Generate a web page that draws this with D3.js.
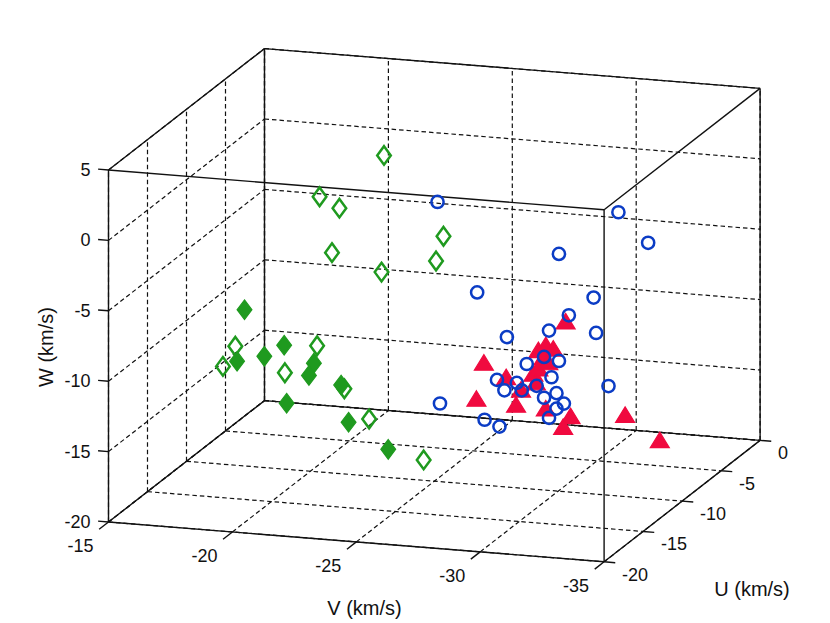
<!DOCTYPE html>
<meta charset="utf-8">
<style>
body{ margin:0; background:#fff; }
text{ font-family:"Liberation Sans", Arial, sans-serif; fill:#111; }
</style>
<body>
<svg class="chart"></svg>
<script src="https://cdn.jsdelivr.net/npm/d3@7"></script>
<script>
// tick values
var vTicks = [-15, -20, -25, -30, -35];
var uTicks = [0, -5, -10, -15, -20];
var wTicks = [-20, -15, -10, -5, 0, 5];

// open green diamonds [V, U, W]
var greenOpenV = [-23.6, -21.0, -21.8, -21.5, -23.5, -26.0, -25.7, -17.6, -17.1, -20.9, -19.6, -22.0, -23.0, -25.2];
var greenOpenU = [-12, -12, -12, -12, -12, -12, -12, -12, -12, -12, -12, -12, -12, -12];
var greenOpenW = [3.8, 0.5, -0.2, -3.4, -4.5, -1.6, -3.4, -10.6, -12.1, -10.1, -12.2, -13.0, -15.0, -17.6];

// filled green diamonds
var greenFillV = [-18.6, -18.3, -19.4, -20.2, -21.4, -21.2, -22.5, -20.3, -22.8, -24.4];
var greenFillU = [-14, -14, -14, -14, -14, -14, -14, -14, -14, -14];
var greenFillW = [-7.0, -10.7, -10.2, -9.3, -10.4, -11.3, -11.8, -13.4, -14.4, -16.1];

// blue open circles
var blueV = [-24.5, -31.8, -33.0, -29.4, -26.1, -30.8, -29.8, -29.0, -30.9, -27.3, -28.8, -29.4, -28.1, -29.1,
             -26.9, -27.2, -27.7, -27.9, -28.5, -29.3, -28.8, -29.6, -24.6, -29.0, -26.4, -27.0, -31.4, -29.3];
var blueU = [-8, -8, -8, -8, -8, -8, -8, -8, -8, -8, -8, -8, -8, -8,
             -8, -8, -8, -8, -8, -8, -8, -8, -8, -8, -8, -8, -8, -8];
var blueW = [-1.1, -0.8, -2.8, -4.1, -7.3, -7.0, -8.4, -9.6, -9.5, -10.3, -11.5, -11.7, -12.1, -12.9,
             -13.4, -14.1, -13.5, -14.0, -13.6, -14.0, -14.4, -14.7, -15.4, -15.8, -16.3, -16.7, -13.2, -15.1];

// red filled triangles
var redV = [-30.3, -27.0, -27.9, -29.2, -29.5, -29.8, -29.4, -29.0, -29.2, -29.1, -26.7, -28.3, -29.5, -30.5,
            -30.2, -32.7, -34.1, -28.5, -29.6];
var redU = [-10, -10, -10, -10, -10, -10, -10, -10, -10, -10, -10, -10, -10, -10,
            -10, -10, -10, -10, -10];
var redW = [-7.9, -11.3, -12.2, -10.1, -9.7, -9.9, -10.6, -11.8, -11.4, -12.4, -13.9, -14.1, -14.2, -14.6,
            -15.4, -14.2, -15.8, -13.0, -10.9];

var w = 830, h = 623;
var svg = d3.select('svg').attr('width', w).attr('height', h);

// each axis mapped to 0..1 along its box edge
var sV = d3.scaleLinear().domain([-15, -35]).range([0, 1]);
var sU = d3.scaleLinear().domain([-20, 0]).range([0, 1]);
var sW = d3.scaleLinear().domain([-20, 5]).range([0, 1]);

// screen frame of the box (front-bottom-left corner and edge vectors)
var org = [108.5, 522];
var eV = [495.6, 39.8];
var eU = [156, -121.4];
var eW = [0, -352];

function proj (v, u, ww) {
  var a = sV(v), b = sU(u), c = sW(ww);
  return [org[0] + a * eV[0] + b * eU[0] + c * eW[0],
          org[1] + a * eV[1] + b * eU[1] + c * eW[1]];
}

function seg (p, q) { return [proj(p[0], p[1], p[2]), proj(q[0], q[1], q[2])]; }

var line = d3.line();

// grid on the three back planes
var grid = [];
vTicks.forEach(function (t) {
  grid.push(seg([t, -20, -20], [t, 0, -20]));
  grid.push(seg([t, 0, -20], [t, 0, 5]));
});
uTicks.forEach(function (t) {
  grid.push(seg([-15, t, -20], [-35, t, -20]));
  grid.push(seg([-15, t, -20], [-15, t, 5]));
});
wTicks.forEach(function (t) {
  grid.push(seg([-15, 0, t], [-35, 0, t]));
  grid.push(seg([-15, -20, t], [-15, 0, t]));
});

svg.append('g').selectAll('path')
  .data(grid)
  .enter()
  .append('path')
  .attr('d', line)
  .attr('fill', 'none')
  .attr('stroke', '#111')
  .attr('stroke-width', 1.2)
  .attr('stroke-dasharray', '4.5,3');

// box edges
var vD = sV.domain(), uD = sU.domain(), wD = sW.domain();
var box = [];
[0, 1].forEach(function (i) {
  [0, 1].forEach(function (j) {
    box.push(seg([vD[0], uD[i], wD[j]], [vD[1], uD[i], wD[j]]));
    box.push(seg([vD[i], uD[0], wD[j]], [vD[i], uD[1], wD[j]]));
    box.push(seg([vD[i], uD[j], wD[0]], [vD[i], uD[j], wD[1]]));
  });
});

svg.append('g').selectAll('path')
  .data(box)
  .enter()
  .append('path')
  .attr('d', line)
  .attr('fill', 'none')
  .attr('stroke', '#111')
  .attr('stroke-width', 1.4);

// ticks
var ticks = [];
vTicks.forEach(function (t) { ticks.push(seg([t, -20, -20], [t, -21.2, -20])); });
uTicks.forEach(function (t) { ticks.push(seg([-35, t, -20], [-35.45, t, -20])); });
wTicks.forEach(function (t) { ticks.push(seg([-15, -20, t], [-14.58, -20, t])); });

svg.append('g').selectAll('path')
  .data(ticks)
  .enter()
  .append('path')
  .attr('d', line)
  .attr('stroke', '#111')
  .attr('stroke-width', 1.4);

// tick labels
svg.append('g').selectAll('text')
  .data(wTicks)
  .enter()
  .append('text')
  .attr('x', function (d) { return proj(-15, -20, d)[0] - 18; })
  .attr('y', function (d) { return proj(-15, -20, d)[1] + 6; })
  .attr('text-anchor', 'end')
  .attr('font-size', '18px')
  .text(String);

svg.append('g').selectAll('text')
  .data(vTicks)
  .enter()
  .append('text')
  .attr('x', function (d) { return proj(d, -20, -20)[0] - 28; })
  .attr('y', function (d) { return proj(d, -20, -20)[1] + 30; })
  .attr('text-anchor', 'middle')
  .attr('font-size', '18px')
  .text(String);

svg.append('g').selectAll('text')
  .data(uTicks)
  .enter()
  .append('text')
  .attr('x', function (d) { return proj(-35, d, -20)[0] + 18; })
  .attr('y', function (d) { return proj(-35, d, -20)[1] + 19; })
  .attr('text-anchor', 'start')
  .attr('font-size', '18px')
  .text(String);

// axis titles
svg.append('text').attr('x', 364.5).attr('y', 615).attr('text-anchor', 'middle')
  .attr('font-size', '20px').text('V (km/s)');
svg.append('text').attr('x', 752).attr('y', 596).attr('text-anchor', 'middle')
  .attr('font-size', '20px').text('U (km/s)');
svg.append('text').attr('transform', 'translate(53,347) rotate(-90)').attr('text-anchor', 'middle')
  .attr('font-size', '20px').text('W (km/s)');

// markers
function pts (V, U, W) {
  return V.map(function (v, i) { return proj(v, U[i], W[i]); });
}

var red = '#f00a3f', blue = '#0b3cc5', green = '#1f9a1f';

svg.append('g').selectAll('path')
  .data(pts(redV, redU, redW))
  .enter()
  .append('path')
  .attr('transform', function (d) { return 'translate(' + d[0] + ',' + d[1] + ')'; })
  .attr('d', 'M0,-8L9.5,7.5L-9.5,7.5Z')
  .attr('fill', red)
  .attr('stroke', red)
  .attr('stroke-width', 1.2);

svg.append('g').selectAll('circle')
  .data(pts(blueV, blueU, blueW))
  .enter()
  .append('circle')
  .attr('cx', function (d) { return d[0]; })
  .attr('cy', function (d) { return d[1]; })
  .attr('r', 6.1)
  .attr('fill', 'none')
  .attr('stroke', blue)
  .attr('stroke-width', 2.5);

svg.append('g').selectAll('path')
  .data(pts(greenOpenV, greenOpenU, greenOpenW))
  .enter()
  .append('path')
  .attr('transform', function (d) { return 'translate(' + d[0] + ',' + d[1] + ')'; })
  .attr('d', 'M0,-9.3L6.8,0L0,9.3L-6.8,0Z')
  .attr('fill', 'none')
  .attr('stroke', green)
  .attr('stroke-width', 2.5);

svg.append('g').selectAll('path')
  .data(pts(greenFillV, greenFillU, greenFillW))
  .enter()
  .append('path')
  .attr('transform', function (d) { return 'translate(' + d[0] + ',' + d[1] + ')'; })
  .attr('d', 'M0,-9.8L7.4,0L0,9.8L-7.4,0Z')
  .attr('fill', green)
  .attr('stroke', green)
  .attr('stroke-width', 1.2);
</script>
</body>
